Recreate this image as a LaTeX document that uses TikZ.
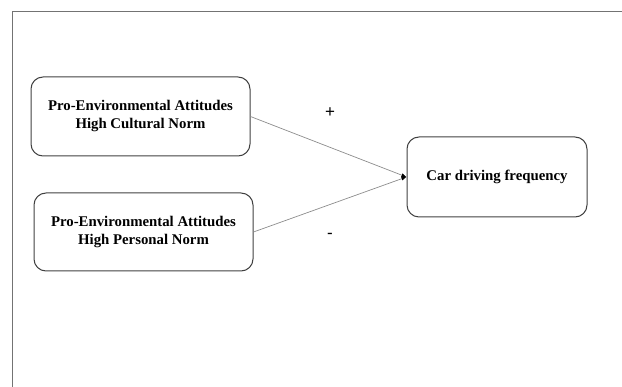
\documentclass[tikz,border=0pt]{standalone}
\usepackage{fontspec}
\setmainfont{Liberation Serif}
\newfontfamily\signfont{Liberation Sans}
\usetikzlibrary{arrows.meta}
\begin{document}
\begin{tikzpicture}[x=1pt,y=-1pt,
  box/.style={draw=black!75,line width=1pt,rounded corners=12pt,align=center,
    font=\bfseries\fontsize{14.8}{18}\selectfont,inner sep=0pt},
  link/.style={draw=black!45,line width=0.7pt,-{Latex[length=5pt,width=4pt,black]}},
  sign/.style={font=\signfont\fontsize{17}{17}\selectfont}]
\useasboundingbox (0,0) rectangle (622,387);
\draw[black!55,line width=1pt] (622,12) -- (12,12) -- (12,387);
\node[box,minimum width=219pt,minimum height=79pt] (a) at (140.5,116.5) {Pro-Environmental Attitudes\\High Cultural Norm};
\node[box,minimum width=219pt,minimum height=78pt] (b) at (143.5,232) {Pro-Environmental Attitudes\\High Personal Norm};
\node[box,minimum width=180pt,minimum height=80pt] (c) at (497,177) {Car driving frequency};
\draw[link] (a.east) -- (c.west);
\draw[link] (b.east) -- (c.west);
\node[sign] (p) at (330,113) {+};
\node[sign] (m) at (330,236) {-};
\end{tikzpicture}
\end{document}
